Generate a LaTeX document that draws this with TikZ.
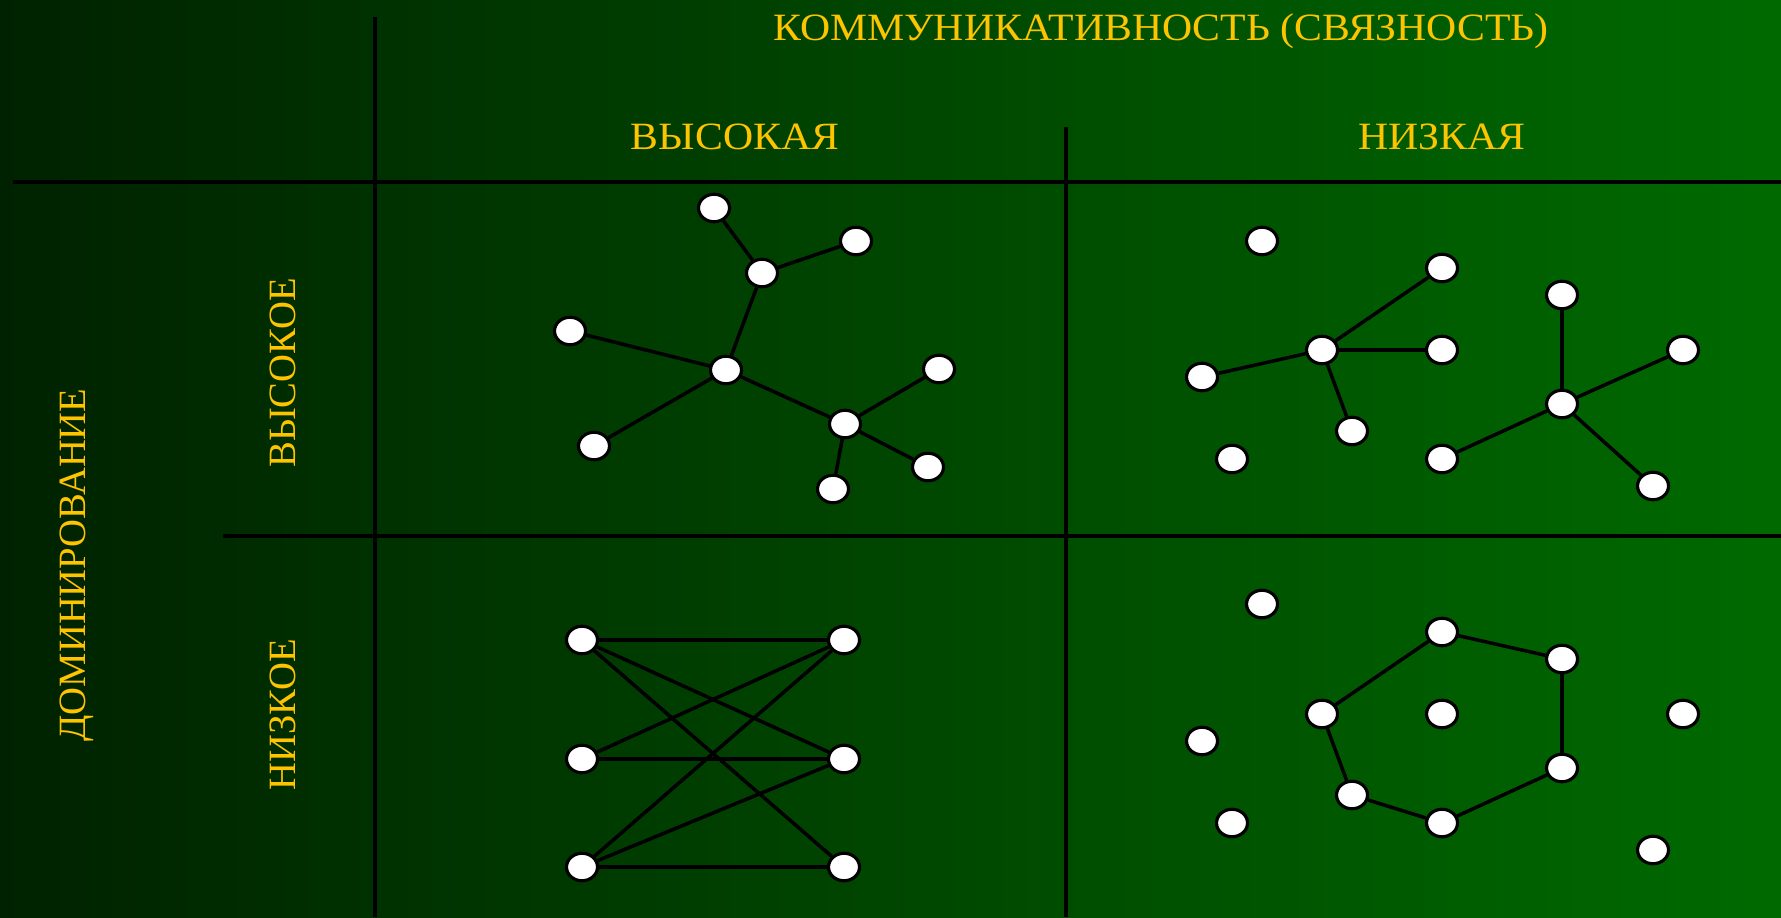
\documentclass[tikz,border=0pt]{standalone}
\usepackage{fontspec}
\setmainfont{Liberation Serif}
\usepackage{tikz}
\usetikzlibrary{shapes.geometric}
\usepackage{xcolor}
\definecolor{bgleft}{RGB}{0,34,0}
\definecolor{bgright}{RGB}{0,106,0}
\definecolor{gold}{RGB}{255,196,0}

\begin{document}
\begin{tikzpicture}[x=0.02cm, y=-0.02cm,
    vertex/.style={ellipse, draw=black, fill=white, line width=1.8pt,
        minimum width=0.62cm, minimum height=0.55cm, inner sep=0pt},
    headtext/.style={text=gold, anchor=base, inner sep=0pt,
        font=\fontsize{22}{26}\selectfont},
    widetext/.style={headtext, xscale=1.08, transform shape},
    conn/.style={line width=2pt},
    tableline/.style={line width=1.8pt}]

    % Background
    \shade[left color=bgleft, right color=bgright] (0,0) rectangle (1781,917);
    \useasboundingbox (0,0) rectangle (1781,917);

    % Table lines
    \draw[tableline] (375,17) -- (375,917);
    \draw[tableline] (1066,127) -- (1066,917);
    \draw[tableline] (13,182) -- (1781,182);
    \draw[tableline] (223,536) -- (1781,536);

    % Headings
    \node[widetext] (comm) at (1161,40) {КОММУНИКАТИВНОСТЬ (СВЯЗНОСТЬ)};
    \node[widetext] (high) at (735,149) {ВЫСОКАЯ};
    \node[widetext] (low) at (1442,149) {НИЗКАЯ};
    \node[headtext, rotate=90] (dom) at (85,565) {ДОМИНИРОВАНИЕ};
    \node[headtext, rotate=90] (domhigh) at (295,373) {ВЫСОКОЕ};
    \node[headtext, rotate=90] (domlow) at (295,715) {НИЗКОЕ};

    % High / high: tree
    \foreach \n/\x/\y in {1/714/208, 2/856/241, 3/762/273, 4/570/331, 5/726/370,
                          6/939/369, 7/845/424, 8/594/446, 9/928/467, 10/833/489}
        \node[vertex] (t\n) at (\x,\y) {};
    \foreach \a/\b in {1/3, 3/2, 3/5, 4/5, 8/5, 5/7, 7/6, 7/9, 7/10}
        \draw[conn] (t\a) -- (t\b);

    % Low / high: two stars
    \foreach \n/\x/\y in {1/1262/241, 2/1442/268, 3/1322/350, 4/1442/350,
                          5/1202/377, 6/1352/431, 7/1232/459, 8/1562/295,
                          9/1683/350, 10/1562/404, 11/1442/459, 12/1653/486}
        \node[vertex] (s\n) at (\x,\y) {};
    \foreach \a/\b in {3/2, 3/4, 3/5, 3/6, 10/8, 10/9, 10/11, 10/12}
        \draw[conn] (s\a) -- (s\b);

    % High / low: bipartite
    \foreach \n/\x/\y in {1/582/640, 2/582/759, 3/582/867,
                          4/844/640, 5/844/759, 6/844/867}
        \node[vertex] (b\n) at (\x,\y) {};
    \foreach \a/\b in {1/4, 1/5, 1/6, 2/4, 2/5, 3/4, 3/5, 3/6}
        \draw[conn] (b\a) -- (b\b);

    % Low / low: cycle
    \foreach \n/\x/\y in {1/1262/604, 2/1442/632, 3/1562/659, 4/1322/714,
                          5/1442/714, 6/1683/714, 7/1202/741, 8/1562/768,
                          9/1352/795, 10/1232/823, 11/1442/823, 12/1653/850}
        \node[vertex] (c\n) at (\x,\y) {};
    \foreach \a/\b in {4/2, 2/3, 3/8, 8/11, 11/9, 9/4}
        \draw[conn] (c\a) -- (c\b);
\end{tikzpicture}
\end{document}
